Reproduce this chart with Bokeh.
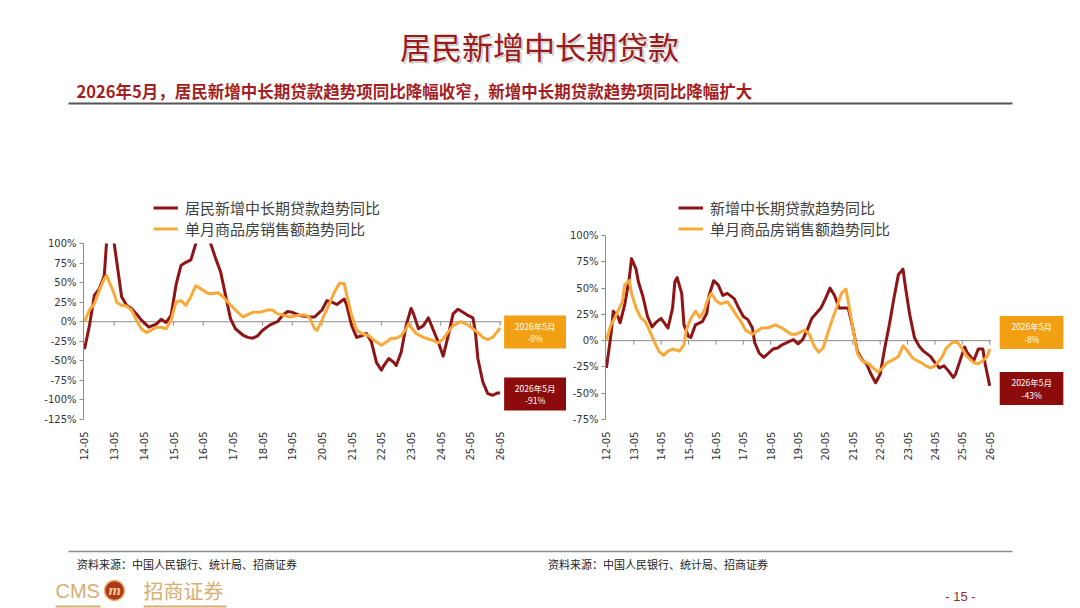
import math
from bokeh.plotting import figure
from bokeh.layouts import column, row
from bokeh.models import (Range1d, FixedTicker, PrintfTickFormatter, Legend, LegendItem,
                          BoxAnnotation)
from bokeh.core.properties import value
from bokeh.embed import file_html
from bokeh.resources import INLINE

# 横轴：月份序号，0 = 2012-05
tick_months = [0, 12, 24, 36, 48, 60, 72, 84, 96, 108, 120, 132, 144, 156, 168]
tick_labels = ["12-05", "13-05", "14-05", "15-05", "16-05", "17-05", "18-05", "19-05",
               "20-05", "21-05", "22-05", "23-05", "24-05", "25-05", "26-05"]
last_month_label = "2026年5月"

# 左图：居民新增中长期贷款趋势同比 (%)
l_loan_m = [0, 2, 4, 6, 8, 9, 11, 12, 14, 15, 17, 19, 21, 23, 26, 29, 31, 33, 35, 37, 39, 41,
            43, 45, 47, 51, 53, 55, 57, 59, 61, 64, 66, 68, 70, 72, 75, 78, 80, 82, 84, 87,
            91, 93, 96, 98, 100, 102, 105, 106, 108, 110, 112, 114, 116, 118, 120, 121, 123,
            125, 126, 128, 130, 132, 133, 135, 137, 139, 140, 143, 145, 147, 149, 151, 153,
            155, 157, 158, 159, 161, 163, 165, 167, 168]
l_loan_v = [-35, -5, 34, 42, 59, 105, 140, 100, 55, 32, 21, 17, 10, 2, -7, -3, 3, -1, 8, 47, 72,
            76, 79, 100, 135, 100, 81, 64, 34, 4, -9, -17, -20, -21, -18, -11, -4, 0, 8, 13, 12,
            8, 6, 6, 15, 27, 25, 22, 29, 21, -5, -20, -18, -15, -26, -52, -62, -56, -47, -52,
            -56, -39, -5, 17, 10, -9, -5, 5, -3, -26, -44, -18, 10, 16, 12, 8, 5, -13, -47,
            -77, -92, -94, -91, -91]
# 左图：单月商品房销售额趋势同比 (%)
l_sales_m = [0, 2, 4, 6, 8, 9, 10, 12, 13, 15, 17, 19, 21, 23, 25, 27, 29, 31, 33, 35, 37, 39,
             41, 43, 45, 47, 50, 52, 54, 56, 58, 61, 64, 66, 68, 71, 74, 76, 78, 81, 83, 86,
             89, 91, 93, 94, 96, 99, 101, 103, 105, 106, 108, 110, 112, 115, 118, 120, 122,
             124, 126, 128, 130, 131, 132, 134, 137, 140, 143, 145, 147, 149, 152, 155, 157,
             159, 161, 163, 165, 168]
l_sales_v = [0, 15, 23, 40, 55, 59, 51, 36, 25, 21, 20, 15, 2, -9, -14, -11, -7, -7, -9, 2, 25,
             27, 21, 32, 46, 42, 36, 36, 37, 32, 25, 15, 6, 9, 12, 12, 15, 15, 10, 8, 6, 8, 9,
             5, -9, -11, 2, 23, 38, 49, 49, 34, 8, -11, -15, -18, -26, -30, -26, -21, -21, -18,
             -9, -3, -7, -15, -20, -23, -27, -22, -13, -5, 0, -4, -9, -14, -20, -23, -20, -8]

# 右图：新增中长期贷款趋势同比 (%)
r_loan_m = [0, 2, 3, 5, 6, 8, 10, 11, 13, 14, 16, 18, 20, 22, 24, 26, 27, 29, 30, 31, 33, 34,
            36, 37, 39, 42, 44, 45, 47, 49, 51, 53, 56, 58, 60, 62, 64, 65, 67, 69, 71, 73, 75,
            77, 80, 82, 84, 86, 88, 90, 92, 94, 96, 98, 100, 102, 104, 106, 108, 110, 112, 114,
            116, 118, 120, 122, 124, 126, 128, 130, 131, 133, 135, 137, 139, 142, 144, 146,
            148, 150, 152, 153, 155, 157, 158, 161, 163, 165, 166, 168]
r_loan_v = [-26, 6, 28, 23, 17, 34, 59, 78, 68, 56, 42, 23, 13, 18, 21, 15, 12, 31, 56, 60, 45,
            15, 4, 3, 15, 18, 26, 43, 57, 53, 43, 45, 40, 31, 23, 20, 12, -2, -12, -16, -12, -8,
            -7, -4, -1, 1, -3, 1, 10, 21, 26, 31, 40, 50, 43, 31, 31, 31, 12, -10, -18, -22,
            -32, -40, -32, -7, 15, 40, 63, 68, 52, 24, 3, -5, -10, -15, -21, -26, -24, -29,
            -35, -32, -19, -6, -11, -19, -8, -8, -22, -43]
# 右图：单月商品房销售额趋势同比 (%)
r_sales_m = [0, 2, 4, 7, 8, 10, 11, 13, 15, 17, 19, 21, 23, 25, 27, 29, 32, 34, 35, 37, 39, 41,
             43, 44, 46, 48, 50, 53, 55, 57, 59, 61, 64, 66, 68, 70, 72, 74, 77, 79, 81, 83,
             85, 87, 89, 91, 93, 95, 97, 99, 101, 103, 105, 106, 108, 110, 112, 115, 117, 119,
             121, 123, 125, 128, 130, 131, 134, 136, 138, 140, 142, 144, 147, 149, 152, 154,
             156, 158, 161, 163, 165, 167, 168]
r_sales_v = [1, 15, 23, 37, 53, 57, 45, 31, 22, 18, 9, -1, -10, -14, -10, -8, -10, -4, 10, 21,
             28, 22, 29, 37, 45, 38, 35, 37, 31, 24, 18, 10, 6, 9, 12, 12, 13, 15, 12, 9, 6, 6,
             8, 10, 6, -5, -11, -7, 7, 20, 32, 45, 49, 37, 12, -12, -19, -22, -26, -30, -26,
             -21, -19, -15, -5, -7, -16, -19, -21, -24, -26, -24, -16, -7, -1, -2, -8, -15, -21,
             -22, -19, -15, -8]

RED = "#8E1515"
ORANGE = "#F8A93A"
BOX_RED = "#8C0B0B"
BOX_ORANGE = "#F2A012"
AXIS = "#8C8C8C"
GOLD = "#D6AE74"
CJK = "Noto Sans CJK SC"
TICK_FONT = "DejaVu Sans"
FRAME_H = 224


def make_chart(loan_m, loan_v, sales_m, sales_v, loan_name, y_lo, y_top, px_y,
               frame_w, px_month, border_l, border_r, legend_xy, box_gap, box_w, shifts):
    x_lo = -0.4
    x_hi = x_lo + frame_w / px_month
    y_hi = y_lo + FRAME_H / px_y
    p = figure(frame_width=frame_w, frame_height=FRAME_H,
               x_range=Range1d(x_lo, x_hi), y_range=Range1d(y_lo, y_hi),
               min_border_left=border_l, min_border_right=border_r,
               min_border_top=87, min_border_bottom=39,
               output_backend="svg", toolbar_location=None,
               outline_line_color=None)
    p.grid.visible = False

    # 纵轴（只画到 100%）
    p.yaxis.ticker = FixedTicker(ticks=list(range(y_lo, y_top + 1, 25)))
    p.yaxis.bounds = (y_lo, y_top)
    p.yaxis.formatter = PrintfTickFormatter(format="%d%%")
    p.yaxis.axis_line_color = AXIS
    p.yaxis.major_tick_line_color = AXIS
    p.yaxis.major_tick_out = 4
    p.yaxis.major_tick_in = 0
    p.yaxis.minor_tick_line_color = None
    p.yaxis.major_label_standoff = 3
    p.yaxis.major_label_text_font = TICK_FONT
    p.yaxis.major_label_text_font_size = "10px"
    p.yaxis.major_label_text_color = "#333333"

    # 横轴标签在底部，轴线在 0 处
    p.xaxis.ticker = FixedTicker(ticks=tick_months)
    p.xaxis.major_label_overrides = dict(zip(tick_months, tick_labels))
    p.xaxis.axis_line_color = None
    p.xaxis.major_tick_line_color = None
    p.xaxis.minor_tick_line_color = None
    p.xaxis.major_label_orientation = math.pi / 2
    p.xaxis.major_label_standoff = 6
    p.xaxis.major_label_text_font = TICK_FONT
    p.xaxis.major_label_text_font_size = "10px"
    p.xaxis.major_label_text_color = "#333333"

    p.segment(x0=[x_lo], y0=[0], x1=[tick_months[-1] + 0.6], y1=[0],
              line_color=AXIS, line_width=1)
    yt = [0] * (len(tick_months) - 1)
    p.segment(x0=tick_months[1:], y0=yt, x1=tick_months[1:],
              y1=[-4 / px_y] * len(yt), line_color=AXIS, line_width=1)

    r1 = p.line(loan_m, loan_v, line_color=RED, line_width=3, line_join="round")
    r2 = p.line(sales_m, sales_v, line_color=ORANGE, line_width=3, line_join="round")

    # 超出 100% 的部分被坐标区上沿截断
    p.add_layout(BoxAnnotation(bottom=y_top, fill_color="white", fill_alpha=1,
                               line_color=None))

    legend = Legend(items=[LegendItem(label=loan_name, renderers=[r1]),
                           LegendItem(label="单月商品房销售额趋势同比", renderers=[r2])],
                    location=legend_xy, orientation="vertical",
                    label_text_font=CJK, label_text_font_size="15px",
                    label_text_color="#404040", glyph_width=25, glyph_height=19,
                    label_height=19, spacing=0, padding=0, margin=0, label_standoff=7,
                    border_line_color=None, background_fill_alpha=0)
    p.add_layout(legend)

    # 最新值标注框
    bx = tick_months[-1] + box_gap / px_month
    for vals, col, shift in [(sales_v, BOX_ORANGE, shifts[0]), (loan_v, BOX_RED, shifts[1])]:
        by = vals[-1] - shift / px_y
        p.rect(x=[bx], y=[by], width=box_w, height=33, width_units="screen",
               height_units="screen", fill_color=col, line_color=None)
        p.text(x=[bx], y=[by], text=[last_month_label], y_offset=-6,
               text_font=value(CJK), text_font_size="8.5px", text_color="white",
               text_align="center", text_baseline="middle")
        p.text(x=[bx], y=[by], text=[f"{vals[-1]}%"], y_offset=6.5,
               text_font=value(CJK), text_font_size="8.5px", text_color="white",
               text_align="center", text_baseline="middle")
    return p


left = make_chart(l_loan_m, l_loan_v, l_sales_m, l_sales_v, "居民新增中长期贷款趋势同比",
                  -125, 100, 176 / 225, 483, 2.474, 83, 0, (70, 180), 35, 62, (4, 1))
right = make_chart(r_loan_m, r_loan_v, r_sales_m, r_sales_v, "新增中长期贷款趋势同比",
                   -75, 100, 184 / 175, 458, 2.2815, 38, 18, (73, 180), 42, 64, (-16.6, 2.6))

# 页眉
hdr = figure(width=1080, height=108, x_range=Range1d(0, 1080), y_range=Range1d(108, 0),
             x_axis_type=None, y_axis_type=None, min_border=0,
             output_backend="svg", toolbar_location=None, outline_line_color=None)
hdr.grid.visible = False
hdr.text(x=[541], y=[47], text=["居民新增中长期贷款"], text_font=value(CJK),
         text_font_size="31px", text_color="#9A9A9A", text_alpha=0.45,
         text_align="center", text_baseline="middle")
hdr.text(x=[539], y=[45], text=["居民新增中长期贷款"], text_font=value(CJK),
         text_font_size="31px", text_color="#9B1B1B",
         text_align="center", text_baseline="middle")
hdr.text(x=[76], y=[90],
         text=["2026年5月，居民新增中长期贷款趋势项同比降幅收窄，新增中长期贷款趋势项同比降幅扩大"],
         text_font=value(CJK), text_font_size="16.5px", text_font_style="bold",
         text_color="#A31E22", text_align="left", text_baseline="middle")
hdr.segment(x0=[68], y0=[103], x1=[1012], y1=[103], line_color="#555555", line_width=2)

# 页脚
ftr = figure(width=1080, height=150, x_range=Range1d(0, 1080), y_range=Range1d(150, 0),
             x_axis_type=None, y_axis_type=None, min_border=0,
             output_backend="svg", toolbar_location=None, outline_line_color=None)
ftr.grid.visible = False
ftr.segment(x0=[68], y0=[88], x1=[1012], y1=[88], line_color="#8A8A8A", line_width=1.5)
for sx in [76.5, 547.6]:
    ftr.text(x=[sx], y=[100], text=["资料来源：中国人民银行、统计局、招商证券"],
             text_font=value(CJK), text_font_size="11px", text_color="#222222",
             text_align="left", text_baseline="middle")
ftr.text(x=[55], y=[127], text=["CMS"], text_font=value("Liberation Sans"),
         text_font_size="20px", text_color=GOLD, text_align="left",
         text_baseline="middle")
ftr.scatter(x=[114], y=[127], marker="circle", size=20, fill_color="#B0371D",
            line_color="#E2B46E", line_width=1.5)
ftr.text(x=[114], y=[127], text=["m"], text_font=value("DejaVu Serif"),
         text_font_size="12px", text_font_style="bold italic", text_color="#F2CF8A",
         text_align="center", text_baseline="middle")
ftr.text(x=[143], y=[127], text=["招商证券"], text_font=value(CJK),
         text_font_size="20px", text_color=GOLD, text_align="left",
         text_baseline="middle")
ftr.segment(x0=[55, 143], y0=[143, 143], x1=[100, 226], y1=[143, 143],
            line_color=GOLD, line_width=2)
ftr.text(x=[960], y=[133], text=["- 15 -"], text_font=value("Liberation Sans"),
         text_font_size="13px", text_color="#A0282C", text_align="center",
         text_baseline="middle")

layout = column(hdr, row(left, right), ftr)
open("out.html", "w", encoding="utf-8").write(file_html(layout, INLINE))
